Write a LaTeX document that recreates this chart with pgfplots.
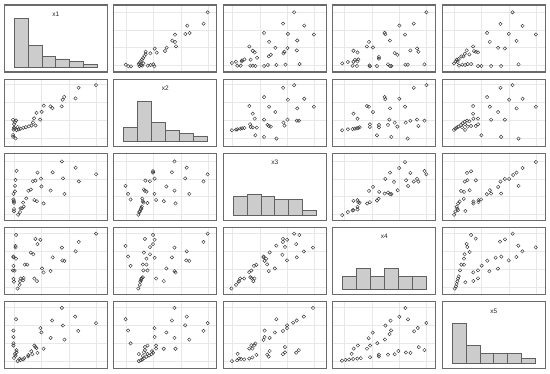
\documentclass[border=0pt]{standalone}
\usepackage{fontspec}
\setmainfont{Liberation Sans}
\usepackage{pgfplots}
\usepackage{pgfplotstable}
\pgfplotsset{compat=1.18}

% pairs: columns = (x of upper panel, y of upper panel)
\pgfplotstableread{
a b
0.911 0.891
0.872 0.721
0.714 0.692
0.736 0.582
0.694 0.567
0.594 0.557
0.568 0.468
0.594 0.448
0.604 0.383
0.513 0.363
0.497 0.313
0.397 0.348
0.416 0.289
0.355 0.279
0.309 0.303
0.309 0.264
0.297 0.239
0.284 0.209
0.274 0.184
0.261 0.159
0.251 0.139
0.241 0.119
0.248 0.090
0.116 0.109
0.141 0.085
0.167 0.085
0.277 0.095
0.329 0.095
0.358 0.104
0.384 0.114
0.394 0.085
0.264 0.100
0.287 0.129
}\pA
\pgfplotstableread{
a b
0.688 0.891
0.581 0.723
0.786 0.693
0.880 0.559
0.627 0.569
0.396 0.584
0.445 0.450
0.718 0.470
0.506 0.361
0.623 0.356
0.594 0.302
0.584 0.277
0.714 0.322
0.253 0.381
0.286 0.317
0.305 0.292
0.461 0.257
0.442 0.233
0.328 0.213
0.205 0.188
0.182 0.173
0.179 0.158
0.266 0.183
0.123 0.153
0.084 0.134
0.136 0.094
0.169 0.094
0.263 0.094
0.286 0.094
0.312 0.089
0.396 0.089
0.432 0.104
0.516 0.104
0.604 0.109
0.740 0.119
}\pB
\pgfplotstableread{
a b
0.909 0.891
0.646 0.693
0.786 0.723
0.503 0.584
0.510 0.564
0.701 0.559
0.351 0.450
0.555 0.470
0.331 0.381
0.390 0.366
0.201 0.317
0.240 0.292
0.818 0.351
0.831 0.302
0.753 0.322
0.601 0.282
0.627 0.257
0.448 0.223
0.448 0.198
0.247 0.188
0.240 0.158
0.214 0.183
0.201 0.153
0.146 0.149
0.091 0.129
0.192 0.094
0.234 0.089
0.357 0.099
0.360 0.084
0.429 0.089
0.536 0.114
0.555 0.089
0.568 0.089
0.705 0.109
0.727 0.109
0.890 0.114
}\pC
\pgfplotstableread{
a b
0.682 0.891
0.565 0.718
0.779 0.688
0.435 0.584
0.646 0.569
0.909 0.559
0.461 0.450
0.721 0.465
0.542 0.361
0.607 0.351
0.299 0.381
0.308 0.312
0.325 0.302
0.347 0.292
0.237 0.322
0.263 0.262
0.218 0.272
0.205 0.233
0.185 0.233
0.159 0.193
0.140 0.183
0.130 0.158
0.114 0.129
0.149 0.149
0.162 0.094
0.195 0.109
0.221 0.104
0.247 0.119
0.279 0.119
0.347 0.089
0.380 0.089
0.474 0.089
0.571 0.089
0.740 0.114
}\pD
\pgfplotstableread{
a b
0.688 0.911
0.581 0.871
0.396 0.733
0.627 0.693
0.786 0.708
0.880 0.589
0.253 0.599
0.445 0.589
0.718 0.564
0.286 0.485
0.506 0.510
0.305 0.411
0.396 0.396
0.623 0.396
0.714 0.381
0.734 0.381
0.584 0.351
0.594 0.307
0.429 0.317
0.442 0.302
0.461 0.292
0.260 0.327
0.266 0.287
0.286 0.282
0.325 0.277
0.205 0.272
0.182 0.267
0.166 0.262
0.136 0.252
0.123 0.248
0.084 0.238
0.312 0.163
0.396 0.139
0.516 0.114
}\pE
\pgfplotstableread{
a b
0.909 0.911
0.786 0.871
0.503 0.733
0.510 0.703
0.646 0.708
0.331 0.599
0.351 0.589
0.701 0.589
0.555 0.564
0.390 0.510
0.201 0.485
0.240 0.411
0.549 0.396
0.601 0.351
0.708 0.351
0.753 0.381
0.818 0.396
0.890 0.381
0.831 0.302
0.627 0.292
0.536 0.317
0.448 0.317
0.448 0.282
0.360 0.327
0.360 0.287
0.260 0.282
0.247 0.272
0.234 0.267
0.214 0.262
0.192 0.257
0.146 0.252
0.091 0.238
0.429 0.163
0.568 0.139
0.727 0.114
}\pF
\pgfplotstableread{
a b
0.682 0.911
0.565 0.871
0.435 0.733
0.649 0.693
0.779 0.708
0.299 0.599
0.461 0.589
0.909 0.589
0.721 0.564
0.299 0.485
0.542 0.510
0.302 0.411
0.347 0.411
0.474 0.396
0.607 0.396
0.240 0.381
0.218 0.366
0.263 0.371
0.198 0.342
0.182 0.317
0.221 0.327
0.279 0.302
0.325 0.302
0.347 0.327
0.156 0.292
0.140 0.277
0.127 0.262
0.114 0.243
0.221 0.243
0.192 0.282
0.247 0.292
0.380 0.163
0.571 0.139
0.740 0.114
}\pG
\pgfplotstableread{
a b
0.701 0.871
0.890 0.738
0.909 0.688
0.643 0.782
0.555 0.713
0.753 0.708
0.510 0.619
0.594 0.574
0.711 0.599
0.786 0.579
0.818 0.619
0.831 0.579
0.731 0.515
0.630 0.450
0.390 0.500
0.351 0.441
0.451 0.426
0.503 0.401
0.536 0.416
0.555 0.391
0.568 0.391
0.445 0.322
0.429 0.297
0.360 0.272
0.334 0.252
0.201 0.292
0.240 0.302
0.247 0.272
0.260 0.262
0.201 0.153
0.240 0.203
0.240 0.163
0.192 0.149
0.146 0.124
0.091 0.079
}\pH
\pgfplotstableread{
a b
0.909 0.871
0.779 0.782
0.721 0.713
0.688 0.678
0.649 0.619
0.607 0.619
0.740 0.515
0.565 0.579
0.542 0.500
0.571 0.401
0.461 0.450
0.474 0.401
0.432 0.391
0.377 0.312
0.351 0.302
0.302 0.282
0.302 0.252
0.351 0.272
0.325 0.599
0.279 0.733
0.240 0.708
0.244 0.599
0.218 0.579
0.182 0.441
0.211 0.426
0.266 0.450
0.208 0.322
0.169 0.282
0.153 0.252
0.140 0.203
0.146 0.173
0.127 0.134
0.114 0.084
0.224 0.139
0.153 0.153
}\pI
\pgfplotstableread{
a b
0.683 0.909
0.279 0.890
0.324 0.835
0.609 0.825
0.560 0.790
0.237 0.755
0.243 0.710
0.738 0.730
0.907 0.705
0.777 0.646
0.266 0.636
0.217 0.601
0.719 0.561
0.573 0.566
0.518 0.551
0.437 0.506
0.211 0.536
0.645 0.511
0.382 0.432
0.347 0.362
0.457 0.348
0.540 0.387
0.301 0.332
0.185 0.447
0.211 0.447
0.172 0.362
0.159 0.272
0.152 0.238
0.146 0.198
0.139 0.158
0.120 0.089
0.133 0.123
0.224 0.183
0.301 0.203
0.347 0.243
}\pJ

\pgfplotsset{
  base/.style={width=103pt,height=67pt,scale only axis,anchor=south west,
    axis line style={draw=black!58,line width=1.2pt}},
  panel/.style={base,xmin=0,xmax=1,ymin=0,ymax=1,
    xticklabels={},yticklabels={},major tick length=0pt,
    grid=major,major grid style={draw=black!9,line width=0.5pt}},
  hpanel/.style={base,xmin=0,xmax=1,ymin=-1.85,ymax=23.15,xtick=\empty,ytick=\empty},
  pts/.style={only marks,mark=o,mark size=1.7pt,
    mark options={draw=black!78,line width=0.45pt,fill=none}},
  hbar/.style={ybar interval,fill=black!20,draw=black!62,line width=0.7pt},
  gx1/.style={xtick={0.095,0.362,0.629,0.893}},
  gy1/.style={ytick={0.095,0.362,0.629,0.893}},
  gx2/.style={xtick={0.118,0.384,0.652,0.918}},
  gy2/.style={ytick={0.118,0.384,0.652,0.918}},
  gx3/.style={xtick={0.091,0.357,0.617,0.883}},
  gy3/.style={ytick={0.091,0.357,0.617,0.883}},
  gx4/.style={xtick={0.110,0.380,0.646,0.912}},
  gy4/.style={ytick={0.110,0.380,0.646,0.912}},
  gx5/.style={xtick={0.115,0.382,0.648,0.912}},
  gy5/.style={ytick={0.115,0.382,0.648,0.912}},
}
\newcommand{\lab}[1]{\node[font=\fontsize{6.5}{7}\selectfont,text=black!85] at (rel axis cs:0.5,0.865) {#1};}

\begin{document}
\begin{tikzpicture}
\path[use as bounding box] (0pt,0pt) rectangle (550pt,374pt);
% row 1
\begin{axis}[hpanel,at={(4.3pt,302pt)}]
\addplot[hbar] coordinates {(0.095,18)(0.23,8)(0.365,4)(0.5,3)(0.635,2)(0.77,1)(0.905,1)};
\lab{x1}
\end{axis}
\begin{axis}[panel,gx2,gy1,at={(113.8pt,302pt)}]
\addplot[pts] table[x index=0,y index=1] {\pA};
\end{axis}
\begin{axis}[panel,gx3,gy1,at={(223.3pt,302pt)}]
\addplot[pts] table[x index=0,y index=1] {\pB};
\end{axis}
\begin{axis}[panel,gx4,gy1,at={(332.8pt,302pt)}]
\addplot[pts] table[x index=0,y index=1] {\pC};
\end{axis}
\begin{axis}[panel,gx5,gy1,at={(442.3pt,302pt)}]
\addplot[pts] table[x index=0,y index=1] {\pD};
\end{axis}
% row 2
\begin{axis}[panel,gx1,gy2,at={(4.3pt,227.8pt)}]
\addplot[pts] table[x index=1,y index=0] {\pA};
\end{axis}
\begin{axis}[hpanel,at={(113.8pt,227.8pt)}]
\addplot[hbar] coordinates {(0.095,5)(0.23,15)(0.365,7)(0.5,4)(0.635,3)(0.77,2)(0.905,2)};
\lab{x2}
\end{axis}
\begin{axis}[panel,gx3,gy2,at={(223.3pt,227.8pt)}]
\addplot[pts] table[x index=0,y index=1] {\pE};
\end{axis}
\begin{axis}[panel,gx4,gy2,at={(332.8pt,227.8pt)}]
\addplot[pts] table[x index=0,y index=1] {\pF};
\end{axis}
\begin{axis}[panel,gx5,gy2,at={(442.3pt,227.8pt)}]
\addplot[pts] table[x index=0,y index=1] {\pG};
\end{axis}
% row 3
\begin{axis}[panel,gx1,gy3,at={(4.3pt,153.6pt)}]
\addplot[pts] table[x index=1,y index=0] {\pB};
\end{axis}
\begin{axis}[panel,gx2,gy3,at={(113.8pt,153.6pt)}]
\addplot[pts] table[x index=1,y index=0] {\pE};
\end{axis}
\begin{axis}[hpanel,at={(223.3pt,153.6pt)}]
\addplot[hbar] coordinates {(0.095,7)(0.23,8)(0.365,7)(0.5,6)(0.635,6)(0.77,2)(0.905,2)};
\lab{x3}
\end{axis}
\begin{axis}[panel,gx4,gy3,at={(332.8pt,153.6pt)}]
\addplot[pts] table[x index=0,y index=1] {\pH};
\end{axis}
\begin{axis}[panel,gx5,gy3,at={(442.3pt,153.6pt)}]
\addplot[pts] table[x index=0,y index=1] {\pI};
\end{axis}
% row 4
\begin{axis}[panel,gx1,gy4,at={(4.3pt,79.4pt)}]
\addplot[pts] table[x index=1,y index=0] {\pC};
\end{axis}
\begin{axis}[panel,gx2,gy4,at={(113.8pt,79.4pt)}]
\addplot[pts] table[x index=1,y index=0] {\pF};
\end{axis}
\begin{axis}[panel,gx3,gy4,at={(223.3pt,79.4pt)}]
\addplot[pts] table[x index=1,y index=0] {\pH};
\end{axis}
\begin{axis}[hpanel,at={(332.8pt,79.4pt)}]
\addplot[hbar] coordinates {(0.095,5)(0.23,8)(0.365,5)(0.5,8)(0.635,5)(0.77,5)(0.905,5)};
\lab{x4}
\end{axis}
\begin{axis}[panel,gx5,gy4,at={(442.3pt,79.4pt)}]
\addplot[pts] table[x index=0,y index=1] {\pJ};
\end{axis}
% row 5
\begin{axis}[panel,gx1,gy5,at={(4.3pt,5.2pt)}]
\addplot[pts] table[x index=1,y index=0] {\pD};
\end{axis}
\begin{axis}[panel,gx2,gy5,at={(113.8pt,5.2pt)}]
\addplot[pts] table[x index=1,y index=0] {\pG};
\end{axis}
\begin{axis}[panel,gx3,gy5,at={(223.3pt,5.2pt)}]
\addplot[pts] table[x index=1,y index=0] {\pI};
\end{axis}
\begin{axis}[panel,gx4,gy5,at={(332.8pt,5.2pt)}]
\addplot[pts] table[x index=1,y index=0] {\pJ};
\end{axis}
\begin{axis}[hpanel,at={(442.3pt,5.2pt)}]
\addplot[hbar] coordinates {(0.095,15)(0.23,7)(0.365,4)(0.5,4)(0.635,4)(0.77,2)(0.905,2)};
\lab{x5}
\end{axis}
\end{tikzpicture}
\end{document}
